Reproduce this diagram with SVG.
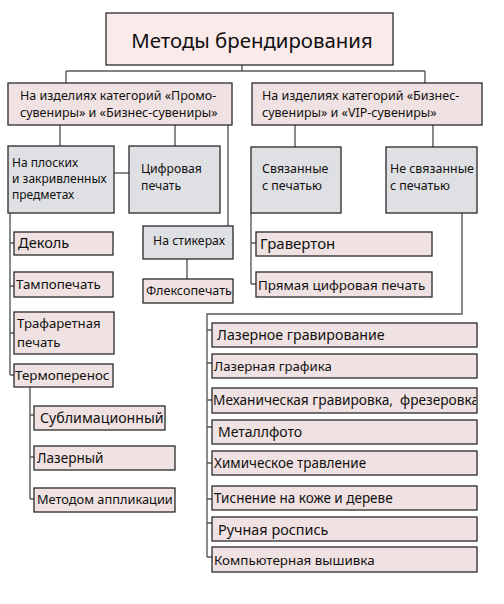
<svg xmlns="http://www.w3.org/2000/svg" width="504" height="604" viewBox="0 0 504 604">
<style>
.b{stroke:#2a2a2a;stroke-width:1.3}
.p{fill:#f0e2e2}
.g{fill:#dfe0e3}
.t{fill:#fbeaea}
.c{fill:none;stroke:#5a5a5a;stroke-width:1.4}
text{font-family:"Noto Sans","Open Sans",sans-serif;fill:#111}
</style>
<defs>
<clipPath id="clipMech"><rect x="212" y="388" width="264" height="25"/></clipPath>
</defs>
<rect width="504" height="604" fill="#fff"/>
<g id="connectors" class="c">
<path d="M242 65V71M66 71H425M66 71V83M425 71V83"/>
<path d="M60 125V146M175 125V146M228 125V226"/>
<path d="M295 125V147M433 125V147"/>
<path d="M114 173H129"/>
<path d="M10 213V375M10 243H14M10 286H14M10 333H14M10 375H14"/>
<path d="M30 387V499M30 415H34M30 457H34M30 499H34"/>
<path d="M187 259V279"/>
<path d="M251 213V284M251 243H256M251 284H256"/>
<path d="M462 213V314H207V557M207 330H212M207 363H212M207 400H212M207 427H212M207 463H212M207 499H212M207 523H212M207 557H212"/>
</g>
<g id="title"><rect class="b t" x="106" y="13" width="287" height="52"/><text x="252" y="48" font-size="20.4" text-anchor="middle">Методы брендирования</text></g>
<g id="catLeft"><rect class="b p" x="8" y="83" width="224" height="42"/><text font-size="12.5"><tspan x="20" y="100">На изделиях категорий «Промо-</tspan><tspan x="20" y="117">сувениры» и «Бизнес-сувениры»</tspan></text></g>
<g id="catRight"><rect class="b p" x="252" y="83" width="230" height="42"/><text font-size="12.5"><tspan x="262" y="100">На изделиях категорий «Бизнес-</tspan><tspan x="262" y="117">сувениры» и «VIP-сувениры»</tspan></text></g>
<g id="flat"><rect class="b g" x="8" y="146" width="106" height="67"/><text font-size="12"><tspan x="12" y="167">На плоских</tspan><tspan x="12" y="183">и закривленных</tspan><tspan x="12" y="199">предметах</tspan></text></g>
<g id="digital"><rect class="b g" x="129" y="146" width="91" height="67"/><text font-size="12.2"><tspan x="141" y="173">Цифровая</tspan><tspan x="141" y="190">печать</tspan></text></g>
<g id="decal"><rect class="b p" x="14" y="232" width="99" height="23"/><text x="18" y="248" font-size="14.6">Деколь</text></g>
<g id="tampo"><rect class="b p" x="14" y="272" width="99" height="25"/><text x="16" y="289" font-size="13.4">Тампопечать</text></g>
<g id="screen"><rect class="b p" x="14" y="312" width="100" height="42"/><text font-size="13.2"><tspan x="17" y="328">Трафаретная</tspan><tspan x="17" y="347">печать</tspan></text></g>
<g id="thermo"><rect class="b p" x="14" y="364" width="99" height="23"/><text x="15" y="380" font-size="13.4">Термоперенос</text></g>
<g id="sublim"><rect class="b p" x="34" y="406" width="131" height="24"/><text x="40" y="423" font-size="14.2">Сублимационный</text></g>
<g id="laserT"><rect class="b p" x="34" y="446" width="141" height="24"/><text x="37" y="463" font-size="13.6">Лазерный</text></g>
<g id="applique"><rect class="b p" x="34" y="488" width="141" height="24"/><text x="37" y="504" font-size="12.8">Методом аппликации</text></g>
<g id="stickers"><rect class="b g" x="143" y="226" width="90" height="33"/><text x="189" y="245" font-size="12.3" text-anchor="middle">На стикерах</text></g>
<g id="flexo"><rect class="b p" x="143" y="279" width="90" height="24"/><text x="146" y="295" font-size="12.6">Флексопечать</text></g>
<g id="related"><rect class="b g" x="251" y="147" width="90" height="66"/><text font-size="12.4"><tspan x="262" y="173">Связанные</tspan><tspan x="262" y="190">с печатью</tspan></text></g>
<g id="unrelated"><rect class="b g" x="386" y="147" width="91" height="66"/><text font-size="12.4"><tspan x="390" y="173">Не связанные</tspan><tspan x="390" y="190">с печатью</tspan></text></g>
<g id="graverton"><rect class="b p" x="256" y="232" width="176" height="24"/><text x="260" y="249" font-size="15">Гравертон</text></g>
<g id="directDigital"><rect class="b p" x="256" y="272" width="176" height="25"/><text x="258" y="290" font-size="13.4">Прямая цифровая печать</text></g>
<g id="laserEngr"><rect class="b p" x="212" y="323" width="265" height="24"/><text x="217" y="340" font-size="14.2">Лазерное гравирование</text></g>
<g id="laserGraph"><rect class="b p" x="212" y="354" width="265" height="24"/><text x="214" y="371" font-size="13.2">Лазерная графика</text></g>
<g id="mech"><rect class="b p" x="212" y="388" width="265" height="25"/><text x="213" y="405" font-size="13.7" xml:space="preserve" clip-path="url(#clipMech)">Механическая гравировка,  фрезеровка</text></g>
<g id="metalphoto"><rect class="b p" x="212" y="420" width="265" height="24"/><text x="218" y="437" font-size="14">Металлфото</text></g>
<g id="etching"><rect class="b p" x="212" y="451" width="265" height="24"/><text x="214" y="468" font-size="13.5">Химическое травление</text></g>
<g id="emboss"><rect class="b p" x="212" y="486" width="265" height="24"/><text x="214" y="503" font-size="13.5">Тиснение на коже и дереве</text></g>
<g id="handPaint"><rect class="b p" x="212" y="517" width="265" height="24"/><text x="218" y="535" font-size="14.4">Ручная роспись</text></g>
<g id="embroidery"><rect class="b p" x="212" y="547" width="265" height="25"/><text x="214" y="565" font-size="13.4">Компьютерная вышивка</text></g>
</svg>
